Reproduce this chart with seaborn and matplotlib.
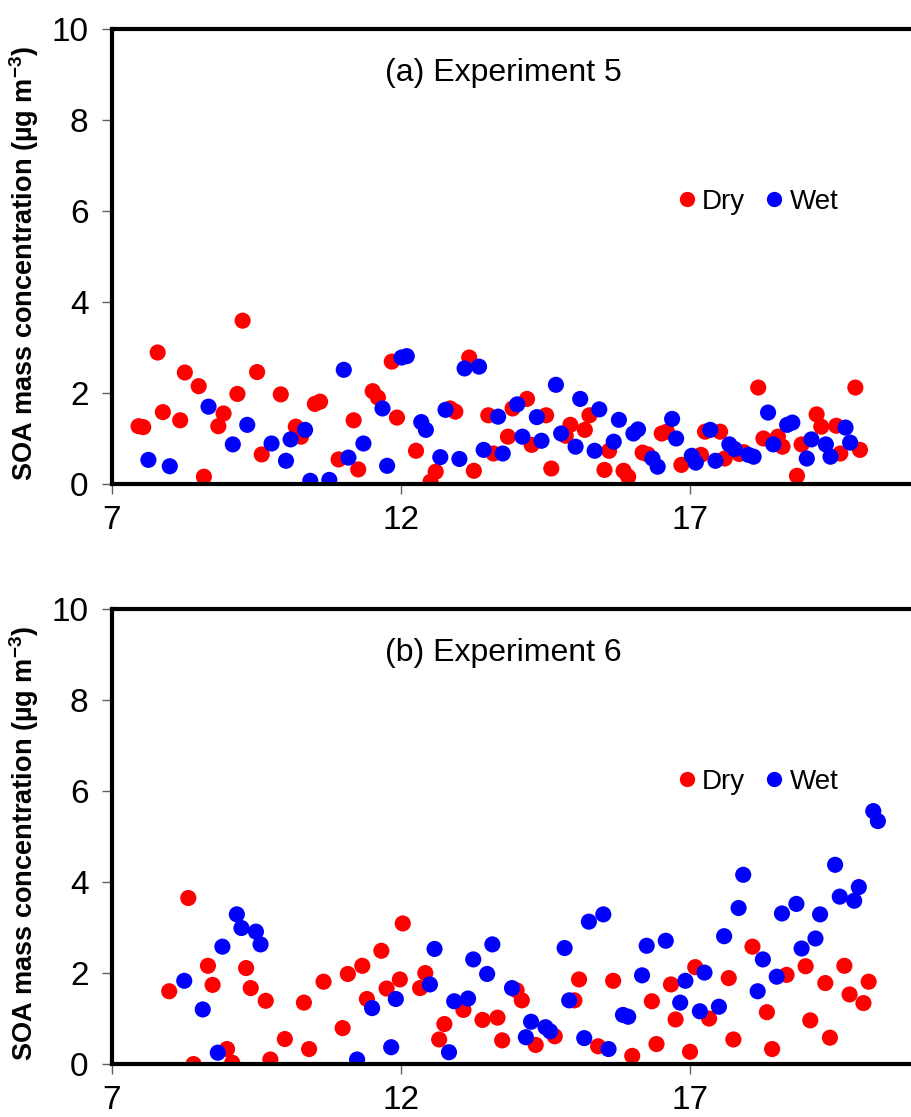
import numpy as np
import pandas as pd
import matplotlib
matplotlib.use("Agg")
import matplotlib.pyplot as plt
from matplotlib.lines import Line2D
import seaborn as sns

# Panel (a) Experiment 5
dry_a_x = [7.46, 7.54, 7.79, 7.88, 8.18, 8.26, 8.50, 8.59, 8.84, 8.93, 9.17, 9.26, 9.51, 9.59,
           9.92, 10.18, 10.27, 10.51, 10.60, 10.92, 11.18, 11.26, 11.51, 11.60, 11.84, 11.93,
           12.26, 12.51, 12.60, 12.85, 12.94, 13.18, 13.26, 13.51, 13.60, 13.85, 13.93, 14.18,
           14.26, 14.51, 14.60, 14.85, 14.93, 15.18, 15.26, 15.52, 15.60, 15.85, 15.93, 16.18,
           16.27, 16.51, 16.60, 16.85, 17.19, 17.26, 17.52, 17.60, 17.85, 17.93, 18.18, 18.27,
           18.52, 18.60, 18.85, 18.93, 19.19, 19.27, 19.53, 19.60, 19.86, 19.94]
dry_a_y = [1.27, 1.25, 2.89, 1.58, 1.40, 2.45, 2.15, 0.16, 1.27, 1.55, 1.98, 3.59, 2.46, 0.65,
           1.97, 1.26, 1.04, 1.76, 1.81, 0.54, 1.40, 0.32, 2.04, 1.90, 2.69, 1.46,
           0.73, 0.05, 0.27, 1.66, 1.59, 2.78, 0.29, 1.51, 0.67, 1.04, 1.66, 1.87,
           0.86, 1.51, 0.34, 1.06, 1.30, 1.19, 1.51, 0.31, 0.73, 0.29, 0.16, 0.69,
           0.65, 1.11, 1.15, 0.42, 0.64, 1.15, 1.15, 0.56, 0.66, 0.70, 2.12, 1.00,
           1.04, 0.82, 0.18, 0.87, 1.53, 1.26, 1.28, 0.67, 2.12, 0.75]
wet_a_x = [7.63, 8.00, 8.67, 9.09, 9.34, 9.76, 10.01, 10.09, 10.34, 10.43, 10.76, 11.01, 11.09,
           11.35, 11.68, 11.76, 12.01, 12.10, 12.35, 12.43, 12.68, 12.77, 13.01, 13.10, 13.35,
           13.43, 13.68, 13.76, 14.01, 14.10, 14.35, 14.43, 14.68, 14.77, 15.02, 15.10, 15.35,
           15.43, 15.68, 15.77, 16.02, 16.10, 16.35, 16.44, 16.69, 16.76, 17.03, 17.10, 17.35,
           17.44, 17.68, 17.77, 18.01, 18.10, 18.35, 18.44, 18.68, 18.77, 19.02, 19.10, 19.35,
           19.43, 19.69, 19.77]
wet_a_y = [0.53, 0.39, 1.70, 0.87, 1.30, 0.89, 0.51, 0.98, 1.19, 0.07, 0.09, 2.51, 0.58,
           0.89, 1.66, 0.40, 2.78, 2.81, 1.36, 1.19, 0.59, 1.63, 0.55, 2.54, 2.58,
           0.75, 1.48, 0.67, 1.75, 1.04, 1.47, 0.95, 2.18, 1.11, 0.82, 1.87, 0.73,
           1.64, 0.93, 1.41, 1.11, 1.20, 0.56, 0.38, 1.43, 1.00, 0.62, 0.47, 1.19,
           0.51, 0.87, 0.77, 0.64, 0.60, 1.57, 0.87, 1.30, 1.35, 0.56, 0.98, 0.87,
           0.60, 1.24, 0.91]

# Panel (b) Experiment 6
dry_b_x = [7.99, 8.32, 8.41, 8.66, 8.74, 8.99, 9.08, 9.32, 9.40, 9.66, 9.74, 9.99, 10.32, 10.41,
           10.66, 10.99, 11.08, 11.33, 11.41, 11.66, 11.75, 11.98, 12.03, 12.33, 12.42, 12.66,
           12.75, 13.08, 13.41, 13.67, 13.75, 14.00, 14.09, 14.33, 14.66, 15.00, 15.08, 15.41,
           15.67, 16.00, 16.34, 16.42, 16.67, 16.75, 17.00, 17.09, 17.33, 17.67, 17.75, 18.08,
           18.33, 18.42, 18.67, 19.00, 19.08, 19.34, 19.42, 19.67, 19.76, 20.00, 20.09]
dry_b_y = [1.60, 3.65, 0.00, 2.16, 1.74, 0.33, 0.03, 2.11, 1.67, 1.39, 0.10, 0.55, 1.35, 0.33,
           1.81, 0.79, 1.98, 2.16, 1.43, 2.49, 1.66, 1.86, 3.09, 1.67, 2.00, 0.54,
           0.88, 1.19, 0.97, 1.02, 0.52, 1.62, 1.40, 0.42, 0.61, 1.40, 1.86, 0.39,
           1.83, 0.18, 1.38, 0.44, 1.75, 0.98, 0.27, 2.13, 1.00, 1.89, 0.54, 2.58,
           1.14, 0.33, 1.96, 2.15, 0.96, 1.78, 0.58, 2.16, 1.53, 1.34, 1.81]
wet_b_x = [8.25, 8.57, 8.83, 8.91, 9.16, 9.24, 9.49, 9.57, 11.24, 11.50, 11.83, 11.91, 12.50,
           12.58, 12.83, 12.92, 13.16, 13.25, 13.49, 13.58, 13.92, 14.16, 14.25, 14.50, 14.58,
           14.83, 14.91, 15.17, 15.25, 15.50, 15.59, 15.84, 15.93, 16.17, 16.25, 16.58, 16.83,
           16.92, 17.17, 17.25, 17.50, 17.59, 17.84, 17.92, 18.17, 18.26, 18.50, 18.59, 18.84,
           18.93, 19.17, 19.25, 19.51, 19.59, 19.84, 19.92, 20.17, 20.25]
wet_b_y = [1.83, 1.20, 0.25, 2.58, 3.29, 2.99, 2.91, 2.63, 0.10, 1.23, 0.37, 1.43, 1.75,
           2.53, 0.26, 1.38, 1.44, 2.30, 1.98, 2.63, 1.67, 0.59, 0.93, 0.81, 0.72,
           2.55, 1.40, 0.57, 3.13, 3.29, 0.33, 1.08, 1.04, 1.95, 2.60, 2.71, 1.35,
           1.83, 1.16, 2.01, 1.26, 2.81, 3.43, 4.16, 1.60, 2.30, 1.92, 3.31, 3.52,
           2.54, 2.76, 3.29, 4.38, 3.68, 3.59, 3.89, 5.56, 5.34]

titles = ["(a) Experiment 5", "(b) Experiment 6"]
ylabel = "SOA mass concentration (µg m$^{\\mathbf{-3}}$)"
colors = {"Dry": "#ff0000", "Wet": "#0000ff"}

sns.set_style("white")
plt.rcParams["font.family"] = ["Liberation Sans", "DejaVu Sans"]
plt.rcParams["mathtext.fontset"] = "custom"
plt.rcParams["mathtext.rm"] = "Liberation Sans"
plt.rcParams["mathtext.bf"] = "Liberation Sans:bold"
plt.rcParams["text.color"] = "black"
plt.rcParams["axes.labelcolor"] = "black"
plt.rcParams["xtick.labelcolor"] = "black"
plt.rcParams["ytick.labelcolor"] = "black"


def make_df(dx, dy, wx, wy):
    d = pd.DataFrame({"time": dx, "soa": dy, "cond": "Dry"})
    w = pd.DataFrame({"time": wx, "soa": wy, "cond": "Wet"})
    return pd.concat([d, w], ignore_index=True)


panels = [make_df(dry_a_x, dry_a_y, wet_a_x, wet_a_y),
          make_df(dry_b_x, dry_b_y, wet_b_x, wet_b_y)]

fig = plt.figure(figsize=(9.12, 11.17), dpi=100)
positions = [[0.1228, 0.5667, 0.8772, 0.4073], [0.1228, 0.0474, 0.8772, 0.4073]]

for df, title, pos in zip(panels, titles, positions):
    ax = fig.add_axes(pos)
    sns.scatterplot(data=df, x="time", y="soa", hue="cond", palette=colors,
                    s=135, linewidth=0, alpha=1, legend=False, ax=ax)
    ax.set_xlim(7, 20.84)
    ax.set_ylim(0, 10)
    ax.set_xticks([7, 12, 17])
    ax.set_yticks([0, 2, 4, 6, 8, 10])
    ax.set_xlabel("")
    ax.set_ylabel(ylabel, fontsize=19.5, fontweight="bold", va="center")
    ax.yaxis.set_label_coords(-0.11, 0.484)
    for side in ["left", "bottom", "top"]:
        ax.spines[side].set_linewidth(3)
        ax.spines[side].set_color("black")
    ax.spines["right"].set_visible(False)
    ax.tick_params(axis="both", direction="out", length=7, width=1, color="#606060",
                   labelsize=24, left=True, bottom=True)
    ax.tick_params(axis="y", pad=10)
    ax.tick_params(axis="x", pad=8)
    ax.text(0.489, 0.904, title, transform=ax.transAxes, ha="center", va="center",
            fontsize=23)
    handles = [Line2D([], [], marker="o", linestyle="", markersize=11,
                      markerfacecolor=colors[k], markeredgewidth=0, label=k)
               for k in ["Dry", "Wet"]]
    ax.legend(handles=handles, loc="center left", bbox_to_anchor=(0.708, 0.62), ncol=2,
              frameon=False, fontsize=20, handlelength=0.6, handletextpad=0.25,
              columnspacing=0.75, borderpad=0, borderaxespad=0)

fig.savefig("out.png", dpi=100)
